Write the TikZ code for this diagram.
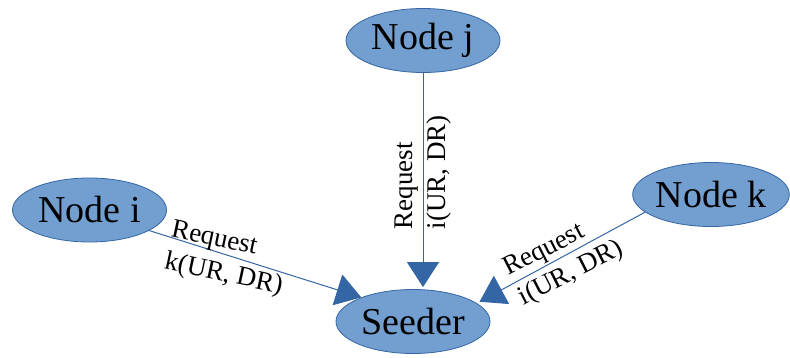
\documentclass[tikz,border=0pt]{standalone}
\usepackage{fontspec}
\setmainfont{Liberation Serif}
\usetikzlibrary{shapes.geometric,arrows.meta}
\definecolor{nodefill}{HTML}{729FCF}
\definecolor{nodeline}{HTML}{3465A4}
\begin{document}
\begin{tikzpicture}[x=1pt,y=1pt,
  peer/.style={ellipse, draw=nodeline, line width=0.8pt, fill=nodefill,
    minimum width=154pt, minimum height=64pt, inner sep=0pt,
    font=\fontsize{38}{42}\selectfont},
  req/.style={draw=nodeline, line width=1pt,
    -{Triangle[length=25pt,width=32pt]}},
  lbl/.style={align=left, inner sep=0pt, font=\fontsize{27}{33}\selectfont}]
\useasboundingbox (0,0) rectangle (790,357);
\node[peer] (j) at (423,316.5) {Node j};
\node[peer] (i) at (89.5,147) {Node i};
\node[peer] (k) at (711,162.5) {Node k};
\node[peer] (s) at (413,35.5) {Seeder};
\draw[req, shorten >=2pt] (j.south) -- (j.south |- s.north)
  node[lbl, pos=0.46, rotate=90] {Request\\i(UR, DR)};
\draw[req] (i.341.4) -- (s.155)
  node[lbl, pos=0.37, rotate=-12, yshift=-4pt] {Request\\k(UR, DR)};
\draw[req, shorten >=3pt] (k.195.5) -- (s.16.7)
  node[lbl, pos=0.49, rotate=27, yshift=-3pt] {Request\\i(UR, DR)};
\end{tikzpicture}
\end{document}
